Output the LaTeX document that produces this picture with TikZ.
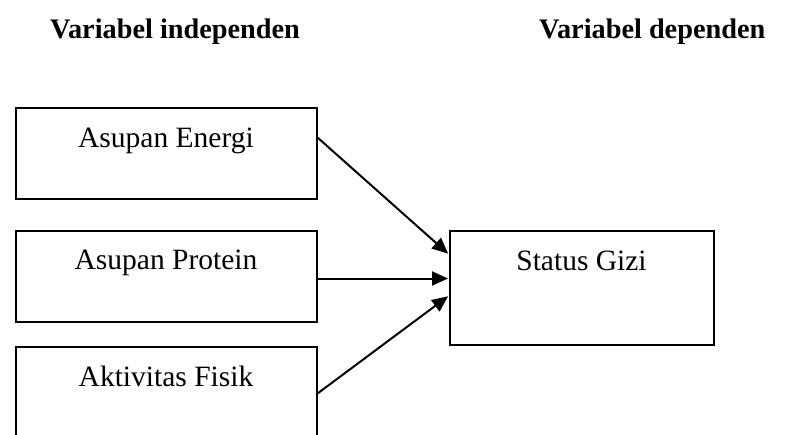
\documentclass[tikz,border=0pt]{standalone}
\usepackage{fontspec}
\setmainfont{Liberation Serif}
\usetikzlibrary{arrows.meta}
\begin{document}
\begin{tikzpicture}[x=1pt,y=-1pt,
  varbox/.style={draw, line width=2pt, inner sep=0pt, anchor=north west,
    minimum width=301pt, text height=39pt, font=\fontsize{29.5}{33}\selectfont},
  title/.style={font=\fontsize{28.3}{32}\selectfont\bfseries, anchor=base west, inner sep=0pt},
  link/.style={line width=2pt, -{Triangle[length=16pt,width=14pt]}, shorten >=0.5pt}]
\useasboundingbox (0,0) rectangle (798,434);
\clip (0,0) rectangle (798,434);
\node[title] (tind) at (50,38) {Variabel independen};
\node[title] (tdep) at (539,38) {Variabel dependen};
\node[varbox, text depth=52pt] (e) at (14.5,107) {Asupan Energi};
\node[varbox, text depth=52pt] (p) at (14.5,229.5) {Asupan Protein};
\node[varbox, text depth=52pt] (a) at (14.5,346) {Aktivitas Fisik};
\node[varbox, minimum width=264pt, text depth=75pt] (s) at (448.5,230) {Status Gizi};
\draw[link] ([yshift=16pt]e.east) -- ([yshift=34pt]s.west);
\draw[link] ([yshift=-2.5pt]p.east) -- ([yshift=9.5pt]s.west);
\draw[link] ([yshift=-1pt]a.east) -- ([yshift=-8pt]s.west);
\end{tikzpicture}
\end{document}
